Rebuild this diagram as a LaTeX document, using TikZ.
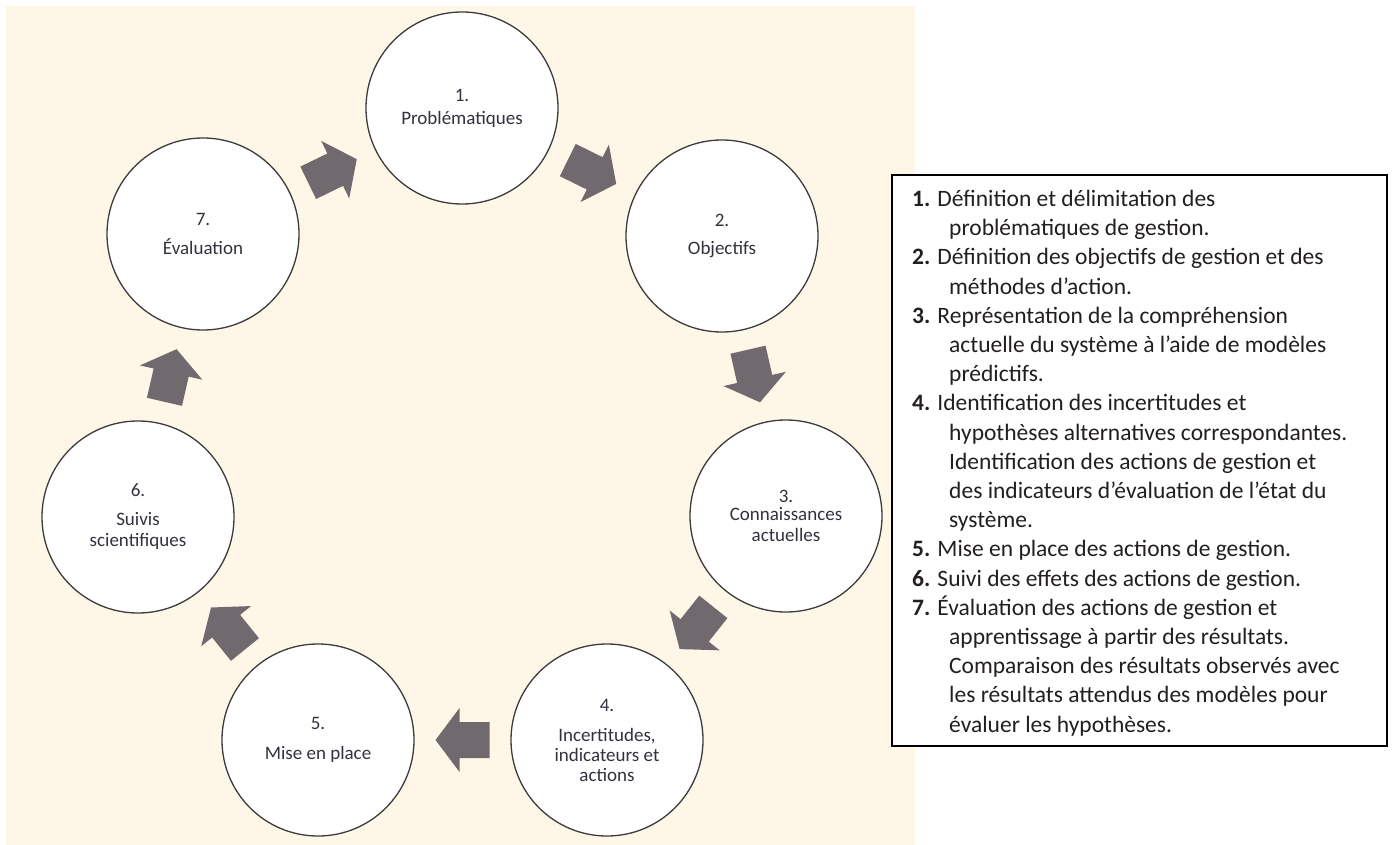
\documentclass[tikz,border=0pt]{standalone}
\usepackage{fontspec}
\setmainfont{Carlito}
\usetikzlibrary{calc}
\definecolor{bgbeige}{RGB}{254,247,232}
\definecolor{flowgray}{RGB}{112,106,111}
\definecolor{circline}{RGB}{60,60,60}
\definecolor{circtext}{RGB}{50,50,62}
\definecolor{boxtext}{RGB}{35,31,32}
\tikzset{
  stage/.style={circle, draw=circline, line width=1.3pt, fill=white, minimum size=192pt, inner sep=0pt, align=center, text=circtext, font=\fontsize{19}{21}\selectfont},
  flowfill/.style={fill=flowgray},
  legendbox/.style={draw=black, line width=2pt, fill=white, inner sep=0pt, anchor=north west},
  legendtext/.style={anchor=north west, inner sep=0pt, align=left, text=boxtext, font=\fontsize{23.5}{29.2}\selectfont},
}
\newcommand\flowarrow[2]{%
  \coordinate (fM) at ($(#1.center)!0.5!(#2.center)$);
  \coordinate (fT) at ($(fM)!27pt!(#2.center)$);
  \coordinate (fH) at ($(fM)!3pt!(#2.center)$);
  \coordinate (fB) at ($(fM)!27pt!180:(#2.center)$);
  \fill[flowfill] (fT) -- ($(fH)!32pt!90:(fT)$) -- ($(fH)!18pt!90:(fT)$) -- ($(fB)!18pt!90:(fT)$) -- ($(fB)!18pt!-90:(fT)$) -- ($(fH)!18pt!-90:(fT)$) -- ($(fH)!32pt!-90:(fT)$) -- cycle;
}
\newcommand\ind{\hspace*{37pt}}
\begin{document}
\begin{tikzpicture}[x=1pt,y=-1pt]
\useasboundingbox (0,0) rectangle (1392,845);
\fill[bgbeige] (6,6) rectangle (915,845);
\node[stage] (c1) at (462,108) {1.\\[2pt]Problématiques};
\node[stage] (c2) at (722,236) {2.\\[7pt]Objectifs};
\node[stage] (c3) at (786,516) {3.\\[-3pt]Connaissances\\actuelles};
\node[stage] (c4) at (607,740) {4.\\[9pt]Incertitudes,\\[-1pt]indicateurs et\\[-1pt]actions};
\node[stage] (c5) at (318,740) {5.\\[9pt]Mise en place};
\node[stage] (c6) at (138,517) {6.\\[8pt]Suivis\\scientifiques};
\node[stage] (c7) at (203,234) {7.\\[8pt]Évaluation};
\flowarrow{c1}{c2}
\flowarrow{c2}{c3}
\flowarrow{c3}{c4}
\flowarrow{c4}{c5}
\flowarrow{c5}{c6}
\flowarrow{c6}{c7}
\flowarrow{c7}{c1}
\node[legendbox, minimum width=495pt, minimum height=571pt] (legend) at (891,174) {};
\node[legendtext] (legendlines) at (912,190) {%
\textbf{1.} Définition et délimitation des\\
\ind problématiques de gestion.\\
\textbf{2.} Définition des objectifs de gestion et des\\
\ind méthodes d’action.\\
\textbf{3.} Représentation de la compréhension\\
\ind actuelle du système à l’aide de modèles\\
\ind prédictifs.\\
\textbf{4.} Identification des incertitudes et\\
\ind hypothèses alternatives correspondantes.\\
\ind Identification des actions de gestion et\\
\ind des indicateurs d’évaluation de l’état du\\
\ind système.\\
\textbf{5.} Mise en place des actions de gestion.\\
\textbf{6.} Suivi des effets des actions de gestion.\\
\textbf{7.} Évaluation des actions de gestion et\\
\ind apprentissage à partir des résultats.\\
\ind Comparaison des résultats observés avec\\
\ind les résultats attendus des modèles pour\\
\ind évaluer les hypothèses.};
\end{tikzpicture}
\end{document}
